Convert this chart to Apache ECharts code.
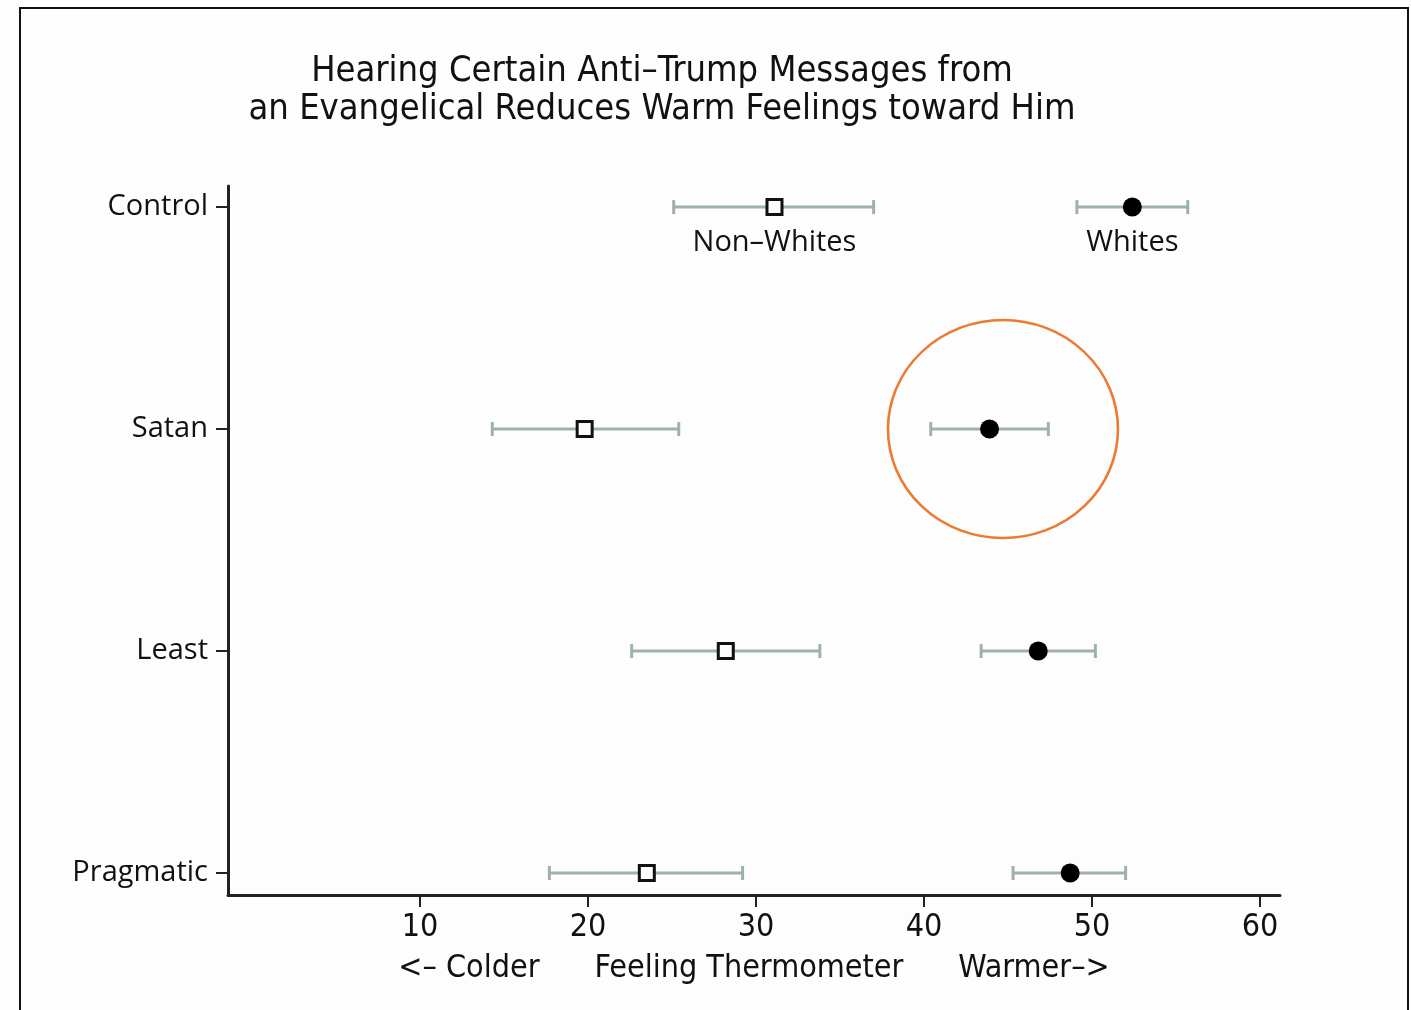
<!DOCTYPE html>
<html>
<head>
<meta charset="utf-8">
<script src="https://cdn.jsdelivr.net/npm/echarts@6/dist/echarts.min.js"></script>
<style>
  html, body { margin: 0; padding: 0; background: #fdfdfd; }
  #wrap { position: relative; width: 1411px; height: 1010px; }
  #chart { position: absolute; left: 0; top: 0; width: 1411px; height: 1010px; }
  #frame { position: absolute; left: 19px; top: 7px; width: 1390px; height: 1010px; border: 2px solid #111; box-sizing: border-box; pointer-events: none; z-index: 5; }
</style>
</head>
<body>
<div id="wrap">
  <div id="chart"></div>
  <div id="frame"></div>
</div>
<script>
// treatments, top to bottom, with their row value on the y axis
const categories = ['Control', 'Satan', 'Least', 'Pragmatic']
const rowValues = [4, 3, 2, 1]

// Non-Whites: mean and 95% interval
const nonWhiteMean = [31.1, 19.8, 28.2, 23.5]
const nonWhiteLow = [25.1, 14.3, 22.6, 17.7]
const nonWhiteHigh = [37.0, 25.4, 33.8, 29.2]

// Whites: mean and 95% interval
const whiteMean = [52.4, 43.9, 46.8, 48.7]
const whiteLow = [49.1, 40.4, 43.4, 45.3]
const whiteHigh = [55.7, 47.4, 50.2, 52.0]

const xTicks = [10, 20, 30, 40, 50, 60]

// highlighted point (Satan, Whites)
const highlight = [44.7, 3]

const chart = echarts.init(document.getElementById('chart'))

const condensed = '"Liberation Sans Narrow", "DejaVu Sans Condensed", sans-serif'
const regular = '"Open Sans", "Noto Sans", sans-serif'
const barColor = '#9fb1ae'

const errorBar = (params, api) => {
  const y = api.value(2)
  const a = api.coord([api.value(0), y])
  const b = api.coord([api.value(1), y])
  const h = 7
  const style = { stroke: barColor, lineWidth: 3 }
  return {
    type: 'group',
    children: [
      { type: 'line', shape: { x1: a[0], y1: a[1], x2: b[0], y2: b[1] }, style },
      { type: 'line', shape: { x1: a[0], y1: a[1] - h, x2: a[0], y2: a[1] + h }, style },
      { type: 'line', shape: { x1: b[0], y1: b[1] - h, x2: b[0], y2: b[1] + h }, style }
    ]
  }
}

const pointLabel = (text) => ({
  show: true,
  position: 'bottom',
  distance: 12,
  formatter: text,
  fontFamily: regular,
  fontSize: 29,
  color: '#111'
})

const nonWhiteData = nonWhiteMean.map((v, i) =>
  i === 0 ? { value: [v, rowValues[i]], label: pointLabel('Non–Whites') } : [v, rowValues[i]])
const whiteData = whiteMean.map((v, i) =>
  i === 0 ? { value: [v, rowValues[i]], label: pointLabel('Whites') } : [v, rowValues[i]])

chart.setOption({
  animation: false,
  backgroundColor: '#fdfdfd',
  title: {
    text: 'Hearing Certain Anti–Trump Messages from\nan Evangelical Reduces Warm Feelings toward Him',
    left: 657,
    top: 48,
    textAlign: 'center',
    textStyle: {
      fontFamily: condensed,
      fontSize: 36,
      fontWeight: 'normal',
      lineHeight: 38,
      color: '#111'
    }
  },
  grid: { left: 228, right: 131, top: 186, bottom: 115 },
  xAxis: {
    type: 'value',
    min: -1.43,
    max: 61.19,
    splitLine: { show: false },
    axisLine: { onZero: false, lineStyle: { color: '#222', width: 3 } },
    axisTick: { customValues: xTicks, length: 12, lineStyle: { color: '#222', width: 2 } },
    axisLabel: {
      customValues: xTicks,
      margin: 17,
      fontFamily: condensed,
      fontSize: 32,
      color: '#111'
    },
    name: '<– Colder      Feeling Thermometer      Warmer–>',
    nameLocation: 'middle',
    nameGap: 58,
    nameTextStyle: { fontFamily: condensed, fontSize: 32, color: '#111' }
  },
  yAxis: {
    type: 'value',
    min: 0.901,
    max: 4.095,
    splitLine: { show: false },
    axisLine: { show: true, onZero: false, lineStyle: { color: '#222', width: 3 } },
    axisTick: { show: true, customValues: rowValues, length: 12, lineStyle: { color: '#222', width: 2 } },
    axisLabel: {
      customValues: rowValues,
      margin: 20,
      formatter: (v) => categories[rowValues.indexOf(v)],
      fontFamily: regular,
      fontSize: 29,
      color: '#111'
    }
  },
  series: [
    {
      type: 'custom',
      renderItem: errorBar,
      encode: { x: [0, 1], y: 2 },
      data: nonWhiteLow.map((v, i) => [v, nonWhiteHigh[i], rowValues[i]]),
      z: 1
    },
    {
      type: 'custom',
      renderItem: errorBar,
      encode: { x: [0, 1], y: 2 },
      data: whiteLow.map((v, i) => [v, whiteHigh[i], rowValues[i]]),
      z: 1
    },
    {
      name: 'Non–Whites',
      type: 'scatter',
      symbol: 'rect',
      symbolSize: 15,
      itemStyle: { color: '#fdfdfd', borderColor: '#111', borderWidth: 3, opacity: 1 },
      data: nonWhiteData,
      z: 3
    },
    {
      name: 'Whites',
      type: 'scatter',
      symbol: 'circle',
      symbolSize: 19,
      itemStyle: { color: '#000', opacity: 1 },
      data: whiteData,
      z: 3
    },
    {
      type: 'scatter',
      symbol: 'circle',
      symbolSize: [230, 218],
      silent: true,
      itemStyle: { color: 'rgba(0,0,0,0)', borderColor: '#ec7a30', borderWidth: 2.5, opacity: 1 },
      data: [highlight],
      z: 4
    }
  ]
})
</script>
</body>
</html>
